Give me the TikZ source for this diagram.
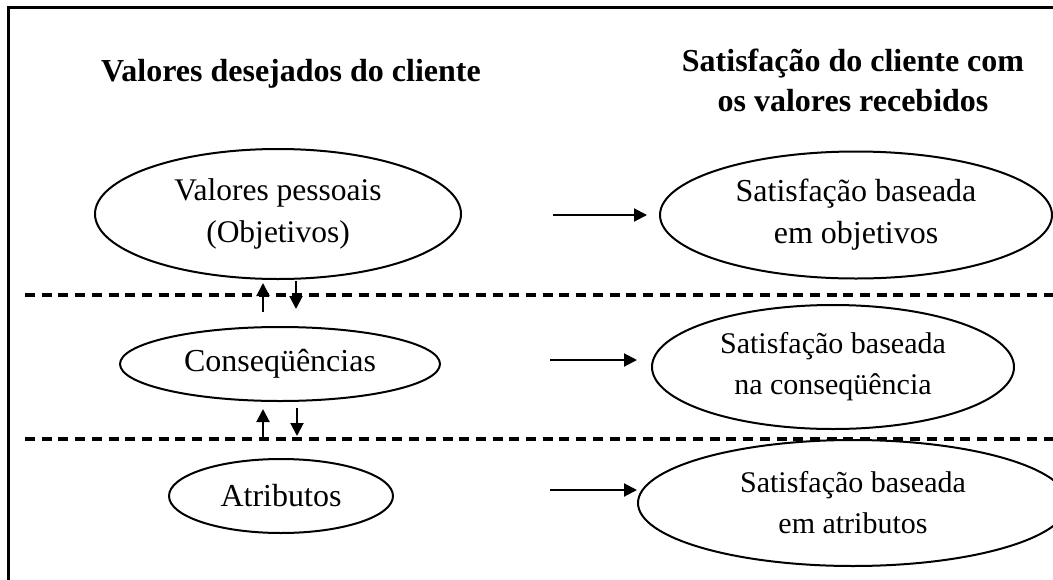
\documentclass[tikz,border=0pt]{standalone}
\usepackage{fontspec}
\setmainfont{Liberation Serif}
\usetikzlibrary{shapes.geometric,arrows.meta}

\tikzset{
  level/.style={draw, ellipse, line width=2pt, inner sep=0pt, align=center, font=\fontsize{30}{41}\selectfont},
  bigtext/.style={font=\fontsize{32}{42}\selectfont},
  heading/.style={font=\bfseries\fontsize{32}{40}\selectfont, align=center},
  divider/.style={line width=4.5pt, dash pattern=on 10pt off 6.7pt},
  link/.style={line width=2pt, -{Triangle[length=13pt,width=13pt]}},
}

\begin{document}
\begin{tikzpicture}[x=1pt, y=-1pt]
\useasboundingbox (0,0) rectangle (1053,579);
% frame
\draw[line width=3pt] (8,590) -- (8,7) -- (1065,7);

% headings
\node (lefthead) [heading, anchor=base] at (291,81) {Valores desejados do cliente};
\node (righthead) [heading] at (853,80) {Satisfação do cliente com\\os valores recebidos};

% levels, left column
\node (vp) [level, font=\fontsize{31.5}{42}\selectfont, minimum width=366pt, minimum height=130pt] at (278,214) {Valores pessoais\\(Objetivos)};
\node (cons) [level, bigtext, minimum width=320pt, minimum height=74pt] at (280,364) {Conseqüências};
\node (atr) [level, bigtext, minimum width=224pt, minimum height=74pt] at (281,496) {Atributos};

% satisfaction, right column
\node (sobj) [level, bigtext, minimum width=392pt, minimum height=127pt] at (856,215) {Satisfação baseada\\em objetivos};
\node (scons) [level, minimum width=362pt, minimum height=124pt] at (833,367) {Satisfação baseada\\na conseqüência};
\node (satr) [level, minimum width=430pt, minimum height=126pt] at (853,503) {Satisfação baseada\\em atributos};

% dashed dividers
\draw[divider] (25,295) -- (1065,295);
\draw[divider] (25,439) -- (1065,439);

% links between levels
\draw[link, shorten <=14pt, shorten >=3pt] ([xshift=-17pt]cons.north) -- ([xshift=-15pt]vp.south);
\draw[link, shorten <=1pt, shorten >=17pt] ([xshift=18pt]vp.south) -- ([xshift=16pt]cons.north);
\draw[link, shorten <=19pt, shorten >=7pt] ([xshift=-18pt]atr.north) -- ([xshift=-17pt]cons.south);
\draw[link, shorten <=6pt, shorten >=22pt] ([xshift=17pt]cons.south) -- ([xshift=16pt]atr.north);

% links to satisfaction
\draw[link, shorten <=91pt, shorten >=12pt] ([yshift=-1pt]vp.east) -- ([yshift=0pt]sobj.west);
\draw[link, shorten <=109pt, shorten >=14pt] ([yshift=4pt]cons.east) -- ([yshift=7pt]scons.west);
\draw[link, shorten <=156pt] ([yshift=6pt]atr.east) -- ([yshift=13pt]satr.west);
\end{tikzpicture}
\end{document}
